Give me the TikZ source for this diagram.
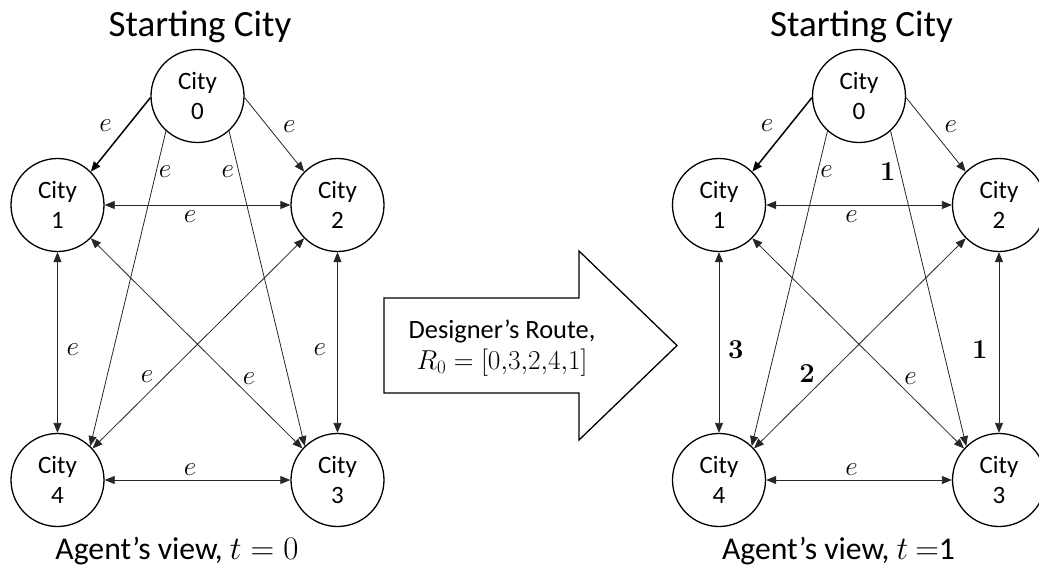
\documentclass[tikz,border=0pt]{standalone}
\usepackage[no-math]{fontspec}
\setmainfont{Carlito}
\usepackage{tikz}
\usetikzlibrary{arrows.meta}
\tikzset{
  city/.style={circle, draw, line width=1.3pt, minimum size=93pt, inner sep=0pt, align=center, font=\fontsize{25}{30}\selectfont},
  road/.style={line width=0.8pt, draw=black!85, -{Triangle[length=10pt,width=8pt]}},
  twoway/.style={road, {Triangle[length=10pt,width=8pt]}-{Triangle[length=10pt,width=8pt]}},
  wt/.style={font=\fontsize{24}{24}\selectfont, inner sep=2pt, scale=1.1, transform shape},
}

\begin{document}
\begin{tikzpicture}[x=1pt,y=-1pt]
\useasboundingbox (0,0) rectangle (1039,567);
% both views of the tour, left t=0 and right t=1
\foreach \side/\dx/\ka/\kb/\kc/\kd/\tlab in {l/0/e/e/e/e/{$t=0$}, r/661.5/\mathbf{1}/\mathbf{3}/\mathbf{1}/\mathbf{2}/{$t$ $=$1}} {
 \begin{scope}[shift={(\dx,0)}]
 \foreach \n/\x/\y in {0/197.5/96, 1/57.5/205, 2/337.5/205, 3/337.5/480, 4/57.5/480}
  \node[city] (\side\n) at (\x,\y) {City\\\n};
 \node[anchor=base, font=\fontsize{37}{40}\selectfont] (\side-title) at (200,37) {Starting City};
 \node[anchor=base, font=\fontsize{24}{28}\selectfont, scale=1.32, transform shape] (\side-view) at (177,559) {Agent’s view, \tlab};
 \draw[road, line width=1.5pt, draw=black] (\side0.182) -- (\side1.45) node[wt, pos=.54, above left=3pt] {$e$};
 \draw[road] (\side0.358) -- (\side2.135) node[wt, pos=.545, above right=3pt] {$e$};
 \draw[road] (\side0.228) -- (\side4.46) node[wt, pos=.13, right] {$e$};
 \draw[road] (\side0.312) -- (\side3.134) node[wt, pos=.13, left=2pt] {$\ka$};
 \draw[twoway] (\side1) -- (\side2) node[wt, pos=.46, below=3pt] {$e$};
 \draw[twoway] (\side1) -- (\side4) node[wt, pos=.54, right=6pt] {$\kb$};
 \draw[twoway] (\side2) -- (\side3) node[wt, pos=.54, left=8pt] {$\kc$};
 \draw[twoway] (\side2.225) -- (\side4.42) node[wt, pos=.70, above left] {$\kd$};
 \draw[twoway] (\side1.315) -- (\side3.138) node[wt, pos=.706, above right] {$e$};
 \draw[twoway] (\side4) -- (\side3) node[wt, pos=.46, above=2pt] {$e$};
 \end{scope}
}
% big arrow between the views
\draw[line width=1.3pt] (384,298) -- (579,298) -- (579,251) -- (677,345.5) -- (579,440) -- (579,393) -- (384,393) -- cycle;
\node[align=center, font=\fontsize{24}{28}\selectfont, scale=1.1, transform shape] (route) at (502,348) {Designer’s Route,\\$R_0=[0{,}3{,}2{,}4{,}1]$};
\end{tikzpicture}
\end{document}
